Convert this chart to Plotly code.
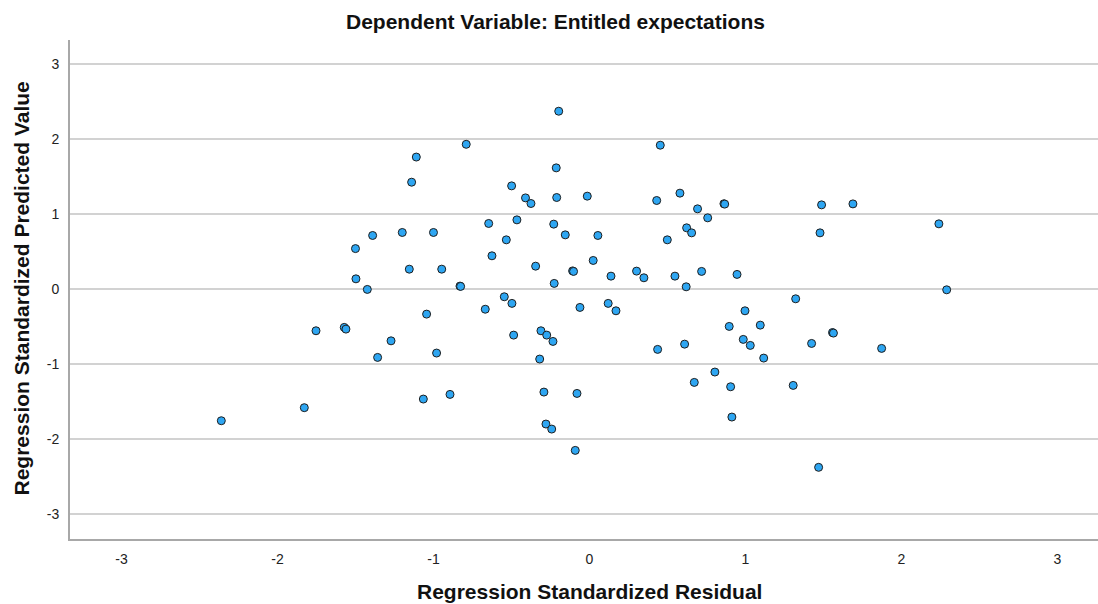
import plotly.graph_objects as go

# Standardized residuals (x) and standardized predicted values (y)
residual = [
    -2.360, -1.828, -1.753, -1.572, -1.561, -1.500, -1.497, -1.424, -1.390, -1.358,
    -1.272, -1.200, -1.155, -1.140, -1.110, -1.065, -1.044, -1.000, -0.980, -0.947,
    -0.894, -0.830, -0.826, -0.790, -0.668, -0.646, -0.625, -0.546, -0.533, -0.499,
    -0.497, -0.486, -0.465, -0.410, -0.375, -0.345, -0.319, -0.311, -0.292, -0.279,
    -0.274, -0.242, -0.234, -0.229, -0.226, -0.213, -0.210, -0.197, -0.155, -0.108,
    -0.102, -0.091, -0.080, -0.061, -0.014, 0.024, 0.054, 0.120, 0.138, 0.170,
    0.302, 0.349, 0.431, 0.437, 0.454, 0.499, 0.548, 0.580, 0.610, 0.620,
    0.623, 0.655, 0.672, 0.693, 0.719, 0.758, 0.804, 0.862, 0.867, 0.896,
    0.905, 0.913, 0.946, 0.986, 0.997, 1.031, 1.095, 1.117, 1.306, 1.322,
    1.424, 1.469, 1.478, 1.488, 1.558, 1.564, 1.689, 1.873, 2.240, 2.290,
]
predicted = [
    -1.754, -1.580, -0.555, -0.510, -0.533, 0.540, 0.137, -0.004, 0.715, -0.910,
    -0.689, 0.755, 0.266, 1.425, 1.760, -1.465, -0.333, 0.755, -0.852, 0.266,
    -1.403, 0.040, 0.036, 1.930, -0.268, 0.875, 0.444, -0.102, 0.657, 1.376,
    -0.190, -0.613, 0.923, 1.216, 1.141, 0.306, -0.932, -0.555, -1.372, -1.798,
    -0.613, -1.865, -0.697, 0.866, 0.076, 1.616, 1.221, 2.371, 0.723, 0.243,
    0.236, -2.149, -1.390, -0.244, 1.239, 0.382, 0.715, -0.190, 0.173, -0.289,
    0.240, 0.151, 1.181, -0.803, 1.918, 0.657, 0.173, 1.279, -0.733, 0.031,
    0.817, 0.750, -1.243, 1.070, 0.236, 0.950, -1.105, 1.138, 1.133, -0.497,
    -1.301, -1.705, 0.196, -0.670, -0.289, -0.750, -0.480, -0.919, -1.283, -0.129,
    -0.724, -2.375, 0.750, 1.123, -0.578, -0.586, 1.136, -0.790, 0.870, -0.009,
]

tick_vals = [-3, -2, -1, 0, 1, 2, 3]
tick_text = ["-3", "-2", "-1", "0", "1", "2", "3"]

FONT = "Liberation Sans, Arial, sans-serif"

fig = go.Figure(
    go.Scatter(
        x=residual,
        y=predicted,
        mode="markers",
        marker=dict(size=8, color="#2ea6f2", line=dict(color="#1e1e1e", width=1)),
        hoverinfo="x+y",
    )
)

fig.update_layout(
    width=1098,
    height=604,
    margin=dict(l=70, r=0, t=40, b=65),
    paper_bgcolor="white",
    plot_bgcolor="white",
    showlegend=False,
    font=dict(family=FONT, color="#222222"),
    xaxis=dict(
        range=[-3.33, 3.26],
        tickvals=tick_vals,
        ticktext=tick_text,
        showgrid=False,
        zeroline=False,
        showline=True,
        linecolor="#a8a8a8",
        linewidth=2,
        ticks="",
        ticklabelstandoff=6,
        tickfont=dict(size=14, color="#222222"),
    ),
    yaxis=dict(
        range=[-3.33, 3.32],
        tickvals=tick_vals,
        ticktext=tick_text,
        showgrid=True,
        gridcolor="#d2d2d2",
        gridwidth=2,
        zeroline=False,
        showline=True,
        linecolor="#a8a8a8",
        linewidth=2,
        ticks="",
        ticklabelstandoff=6,
        tickfont=dict(size=14, color="#222222"),
    ),
    annotations=[
        dict(
            text="<b>Dependent Variable: Entitled expectations</b>",
            xref="paper", yref="paper", x=0.472, y=1.0, yshift=19,
            xanchor="center", yanchor="middle", showarrow=False,
            font=dict(size=21, family=FONT, color="#111111"),
        ),
        dict(
            text="<b>Regression Standardized Residual</b>",
            xref="paper", yref="paper", x=0.505, y=0.0, yshift=-52,
            xanchor="center", yanchor="middle", showarrow=False,
            font=dict(size=21, family=FONT, color="#111111"),
        ),
        dict(
            text="<b>Regression Standardized Predicted Value</b>",
            xref="paper", yref="paper", x=0.0, xshift=-48, y=0.502,
            xanchor="center", yanchor="middle", showarrow=False, textangle=-90,
            font=dict(size=21, family=FONT, color="#111111"),
        ),
    ],
)

fig.write_html("out.html")
